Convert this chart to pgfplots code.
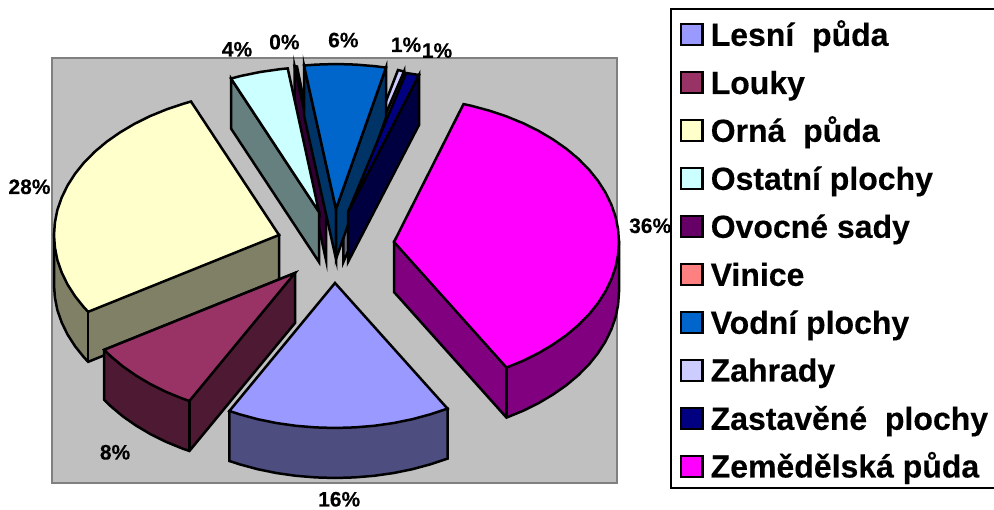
\documentclass[border=0pt]{standalone}
\usepackage{fontspec}
\setmainfont{Liberation Sans}[BoldFeatures={FakeBold=0.3}]
\usepackage{pgfplots}
\pgfplotsset{compat=1.18}
\definecolor{cLesni}{HTML}{9999FF}\definecolor{sLesni}{HTML}{4D4D80}
\definecolor{cLouky}{HTML}{993366}\definecolor{sLouky}{HTML}{4D1933}
\definecolor{cOrna}{HTML}{FFFFCC}\definecolor{sOrna}{HTML}{808066}
\definecolor{cOst}{HTML}{CCFFFF}\definecolor{sOst}{HTML}{668080}
\definecolor{cOvo}{HTML}{660066}\definecolor{sOvo}{HTML}{330033}
\definecolor{cVin}{HTML}{FF8080}
\definecolor{cVod}{HTML}{0066CC}\definecolor{sVod}{HTML}{003366}
\definecolor{cZah}{HTML}{CCCCFF}\definecolor{sZah}{HTML}{666680}
\definecolor{cZas}{HTML}{000080}\definecolor{sZas}{HTML}{000040}
\definecolor{cZem}{HTML}{FF00FF}\definecolor{sZem}{HTML}{800080}
\pgfplotsset{wedge/.style={draw=black,line width=2.5pt,fill=#1},swatch/.style={draw=black,line width=2.2pt,fill=#1}}
\newcommand{\lab}[3]{\node[anchor=base west,inner sep=0pt,font=\fontsize{21}{21}\selectfont\bfseries] at (axis cs:#1,#2) {#3};}
\newcommand{\legtext}[2]{\node[anchor=base west,inner sep=0pt,font=\fontsize{32}{32}\selectfont\bfseries] at (axis cs:710.5,#1) {#2};}
\begin{document}
\begin{tikzpicture}
\begin{axis}[scale only axis,width=994pt,height=510pt,xmin=0,xmax=994,ymin=0,ymax=510,y dir=reverse,hide axis]
% page and plot area
\addplot[draw=none,fill=white] coordinates {(0,0)(994,0)(994,510)(0,510)} --cycle;
\addplot[draw={rgb,255:red,128;green,128;blue,128},line width=2pt,fill={rgb,255:red,192;green,192;blue,192}] coordinates {(51.7,58.3)(616.7,58.3)(616.7,483.3)(51.7,483.3)} --cycle;
% Ovocne sady
\addplot[wedge=sOvo] coordinates {(326,210)(294.5,66)(294.5,116)(326,260)} --cycle;
\addplot[wedge=cOvo] coordinates {(326,210)(294.5,66)(297,66.5)} --cycle;
% Ostatni plochy
\addplot[wedge=sOst] coordinates {(319,212)(231,78.5)(231,128.5)(319,262)} --cycle;
\addplot[wedge=cOst] coordinates {(319,212)(231,78.5)(242,75.7)(260.8,71.9)(279.9,69.2)(287.7,68.4)} --cycle;
% Zahrady
\addplot[wedge=sZah] coordinates {(343.4,212)(404,71.5)(404,121.5)(343.4,262)} --cycle;
\addplot[wedge=cZah] coordinates {(343.4,212)(398,70)(404,71.5)} --cycle;
% Vodni plochy
\addplot[wedge=sVod] coordinates {(336,209)(304,65.5)(304,115.5)(336,259)} --cycle;
\addplot[wedge=sVod] coordinates {(336,209)(386,67.6)(386,117.6)(336,259)} --cycle;
\addplot[wedge=cVod] coordinates {(336,209)(304,65.5)(316.4,64.6)(336,64)(355.6,64.6)(375.1,66.2)(386,67.6)} --cycle;
% Zastavene plochy
\addplot[wedge=sZas] coordinates {(348,212)(419,75)(419,125)(348,262)} --cycle;
\addplot[wedge=cZas] coordinates {(348,212)(406,73)(419,75)} --cycle;
% Orna puda
\addplot[wedge=sOrna] coordinates {(279,235)(279,285)(88.2,361.8)(84.1,357.5)(75.1,346.3)(67.6,334.6)(61.7,322.5)(57.4,310.2)(54.9,297.6)(54,285)(54,235)} --cycle;
\addplot[draw=black,line width=2.5pt] coordinates {(88.2,311.8)(88.2,361.8)};
\addplot[wedge=cOrna] coordinates {(279,235)(191,101.5)(183.9,103.6)(166.5,109.4)(149.9,116.2)(134.4,123.9)(119.9,132.5)(106.6,141.8)(94.7,151.8)(84.1,162.5)(75.1,173.7)(67.6,185.4)(61.7,197.5)(57.4,209.8)(54.9,222.4)(54,235)(54.9,247.6)(57.4,260.2)(61.7,272.5)(67.6,284.6)(75.1,296.3)(84.1,307.5)(88.2,311.8)} --cycle;
% Louky
\addplot[wedge=sLouky] coordinates {(295,273)(104.2,349.8)(104.2,399.8)(110.7,406.2)(122.6,416.2)(135.9,425.5)(150.4,434.1)(165.9,441.8)(182.5,448.6)(189.4,451)(295,323)} --cycle;
\addplot[draw=black,line width=2.5pt] coordinates {(189.4,401)(189.4,451)};
\addplot[wedge=cLouky] coordinates {(295,273)(104.2,349.8)(110.7,356.2)(122.6,366.2)(135.9,375.5)(150.4,384.1)(165.9,391.8)(182.5,398.6)(189.4,401)} --cycle;
% Lesni puda
\addplot[wedge=sLesni] coordinates {(229.4,411)(229.4,461)(239.9,464.4)(258,469.3)(276.8,473.1)(295.9,475.8)(315.4,477.4)(335,478)(354.6,477.4)(374.1,475.8)(393.2,473.1)(412,469.3)(430.1,464.4)(447.5,458.6)(447.5,408.6)} --cycle;
\addplot[wedge=cLesni] coordinates {(335,283)(229.4,411)(239.9,414.4)(258,419.3)(276.8,423.1)(295.9,425.8)(315.4,427.4)(335,428)(354.6,427.4)(374.1,425.8)(393.2,423.1)(412,419.3)(430.1,414.4)(447.5,408.6)} --cycle;
% Zemedelska puda
\addplot[wedge=sZem] coordinates {(394,242)(394,292)(506.5,417.6)(523.1,410.8)(538.6,403.1)(553.1,394.5)(566.4,385.2)(578.3,375.2)(588.9,364.5)(597.9,353.3)(605.4,341.6)(611.3,329.5)(615.6,317.2)(618.1,304.6)(619,292)(619,242)} --cycle;
\addplot[draw=black,line width=2.5pt] coordinates {(506.5,367.6)(506.5,417.6)};
\addplot[wedge=cZem] coordinates {(394,242)(463.5,104.1)(471,105.7)(489.1,110.6)(506.5,116.4)(523.1,123.2)(538.6,130.9)(553.1,139.5)(566.4,148.8)(578.3,158.8)(588.9,169.5)(597.9,180.7)(605.4,192.4)(611.3,204.5)(615.6,216.8)(618.1,229.4)(619,242)(618.1,254.6)(615.6,267.2)(611.3,279.5)(605.4,291.6)(597.9,303.3)(588.9,314.5)(578.3,325.2)(566.4,335.2)(553.1,344.5)(538.6,353.1)(523.1,360.8)(506.5,367.6)} --cycle;
% legend frame and swatches
\addplot[draw=black,line width=2pt,fill=white] coordinates {(671,9.5)(1005,9.5)(1005,488)(671,488)} --cycle;
\addplot[swatch=cLesni] coordinates {(681,24)(702.5,24)(702.5,45)(681,45)} --cycle;
\addplot[swatch=cLouky] coordinates {(681,72.3)(702.5,72.3)(702.5,93.3)(681,93.3)} --cycle;
\addplot[swatch=cOrna] coordinates {(681,120)(702.5,120)(702.5,141)(681,141)} --cycle;
\addplot[swatch=cOst] coordinates {(681,168)(702.5,168)(702.5,189)(681,189)} --cycle;
\addplot[swatch=cOvo] coordinates {(681,216)(702.5,216)(702.5,237)(681,237)} --cycle;
\addplot[swatch=cVin] coordinates {(681,264)(702.5,264)(702.5,285)(681,285)} --cycle;
\addplot[swatch=cVod] coordinates {(681,312)(702.5,312)(702.5,333)(681,333)} --cycle;
\addplot[swatch=cZah] coordinates {(681,359.7)(702.5,359.7)(702.5,380.7)(681,380.7)} --cycle;
\addplot[swatch=cZas] coordinates {(681,408)(702.5,408)(702.5,429)(681,429)} --cycle;
\addplot[swatch=cZem] coordinates {(681,455.7)(702.5,455.7)(702.5,476.7)(681,476.7)} --cycle;
% legend text
\legtext{45.8}{Lesní\ \ půda}
\legtext{94}{Louky}
\legtext{141.8}{Orná\ \ půda}
\legtext{189.8}{Ostatní plochy}
\legtext{237.8}{Ovocné sady}
\legtext{285.8}{Vinice}
\legtext{333.8}{Vodní plochy}
\legtext{381.5}{Zahrady}
\legtext{429.8}{Zastavěné\ \ plochy}
\legtext{477.5}{Zemědělská půda}
% data labels
\lab{629}{233}{36\%}
\lab{8.3}{194}{28\%}
\lab{99.7}{459.5}{8\%}
\lab{318}{506.5}{16\%}
\lab{221.7}{56.5}{4\%}
\lab{269}{49.3}{0\%}
\lab{328}{47.3}{6\%}
\lab{390.7}{52}{1\%}
\lab{421.7}{57.8}{1\%}
\end{axis}
\end{tikzpicture}
\end{document}
